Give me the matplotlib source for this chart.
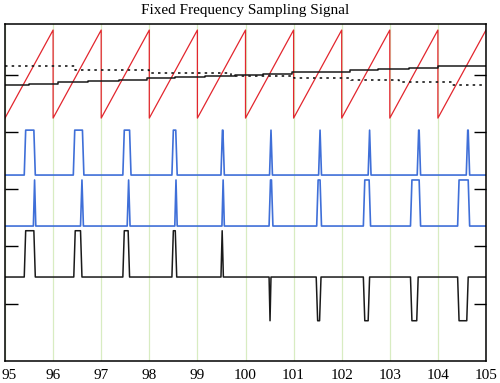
import numpy as np
import matplotlib
matplotlib.use("Agg")
import matplotlib.pyplot as plt
from matplotlib.transforms import ScaledTranslation

# ---- data ----
x_ticks = [95, 96, 97, 98, 99, 100, 101, 102, 103, 104, 105]

# sawtooth (red): resets at every integer
saw_resets = [95, 96, 97, 98, 99, 100, 101, 102, 103, 104, 105]
saw_low, saw_high = 4.24, 5.777

# solid staircase (black)
solid_t = [95.0, 95.49, 96.11, 96.73, 97.36, 97.95, 98.53, 99.16, 99.78,
           100.37, 100.96, 101.57, 102.17, 102.76, 103.39, 104.01, 105.0]
solid_v = [4.817, 4.834, 4.869, 4.892, 4.909, 4.934, 4.951, 4.979, 4.997,
           5.009, 5.038, 5.052, 5.073, 5.091, 5.119, 5.148, 5.148]

# dotted staircase (black)
dot_t = [95.0, 96.45, 98.0, 99.7, 101.0, 102.2, 103.2, 104.3, 105.0]
dot_v = [5.157, 5.087, 5.035, 4.983, 4.944, 4.904, 4.869, 4.825, 4.825]

# blue pulse train 1 (start, end)
blue1_pulses = [(95.40, 95.63), (96.42, 96.64), (97.45, 97.62), (98.47, 98.58),
                (99.49, 99.56), (100.50, 100.56), (101.52, 101.58),
                (102.55, 102.61), (103.57, 103.64), (104.59, 104.66)]
blue1_low, blue1_high = 3.246, 4.03

# blue pulse train 2
blue2_pulses = [(95.59, 95.64), (96.57, 96.63), (97.54, 97.60), (98.53, 98.58),
                (99.51, 99.56), (100.49, 100.57), (101.48, 101.58),
                (102.45, 102.60), (103.43, 103.64), (104.41, 104.66)]
blue2_low, blue2_high = 2.356, 3.16

# black difference signal (start, end, level)
black_pulses = [(95.40, 95.63, 2.274), (96.43, 96.60, 2.274), (97.45, 97.59, 2.274),
                (98.47, 98.57, 2.274), (99.49, 99.54, 2.274),
                (100.49, 100.53, 0.703), (101.47, 101.57, 0.703),
                (102.45, 102.58, 0.703), (103.43, 103.59, 0.703),
                (104.41, 104.63, 0.703)]
black_base = 1.466


def pulse_line(pulses, base, level=None, ramp=0.03):
    xs, ys = [95.0], [base]
    for p in pulses:
        s, e = p[0], p[1]
        lv = p[2] if len(p) > 2 else level
        r = min(ramp, (e - s) / 2)
        xs += [s, s + r, e - r, e]
        ys += [base, lv, lv, base]
    xs.append(105.0)
    ys.append(base)
    return xs, ys


fig = plt.figure(figsize=(5, 3.83), dpi=100)
ax = fig.add_axes([0.01, 0.0574, 0.962, 0.8796])

# sawtooth
sx, sy = [], []
for a, b in zip(saw_resets[:-1], saw_resets[1:]):
    sx += [a, b]
    sy += [saw_low, saw_high]
ax.plot(sx, sy, color="#e3262e", lw=0.9)

ax.plot(solid_t, solid_v, drawstyle="steps-post", color="#1a1a1a", lw=1.1)
ax.plot(dot_t, dot_v, drawstyle="steps-post", color="#1a1a1a", lw=1.2,
        linestyle=(0, (1.5, 2.5)))

bx, by = pulse_line(blue1_pulses, blue1_low, blue1_high)
ax.plot(bx, by, color="#3f6fd8", lw=1.2)
bx, by = pulse_line(blue2_pulses, blue2_low, blue2_high)
ax.plot(bx, by, color="#3f6fd8", lw=1.2)
kx, ky = pulse_line(black_pulses, black_base)
ax.plot(kx, ky, color="#1a1a1a", lw=1.1)

ax.set_xlim(95, 105)
ax.set_ylim(0, 5.88)
ax.set_xticks(x_ticks)
ax.set_xticklabels([str(t) for t in x_ticks], family="Liberation Serif", fontsize=11)
ax.set_yticks([1, 2, 3, 4, 5])
ax.set_yticklabels([])
ax.tick_params(axis="x", length=0, pad=6)
ax.tick_params(axis="y", direction="in", length=9, width=1, left=True, right=True)
ax.grid(axis="x", color="#d8ecc2", lw=0.9)
ax.set_axisbelow(True)
for sp in ax.spines.values():
    sp.set_linewidth(1.1)
ax.set_title("Fixed Frequency Sampling Signal", family="Liberation Serif",
             fontsize=11, pad=7)

# keep the first label inside the canvas
first = ax.get_xticklabels()[0]
first.set_ha("left")
first.set_transform(first.get_transform() + ScaledTranslation(-4 / 100, 0, fig.dpi_scale_trans))

fig.savefig("out.png", dpi=100)
